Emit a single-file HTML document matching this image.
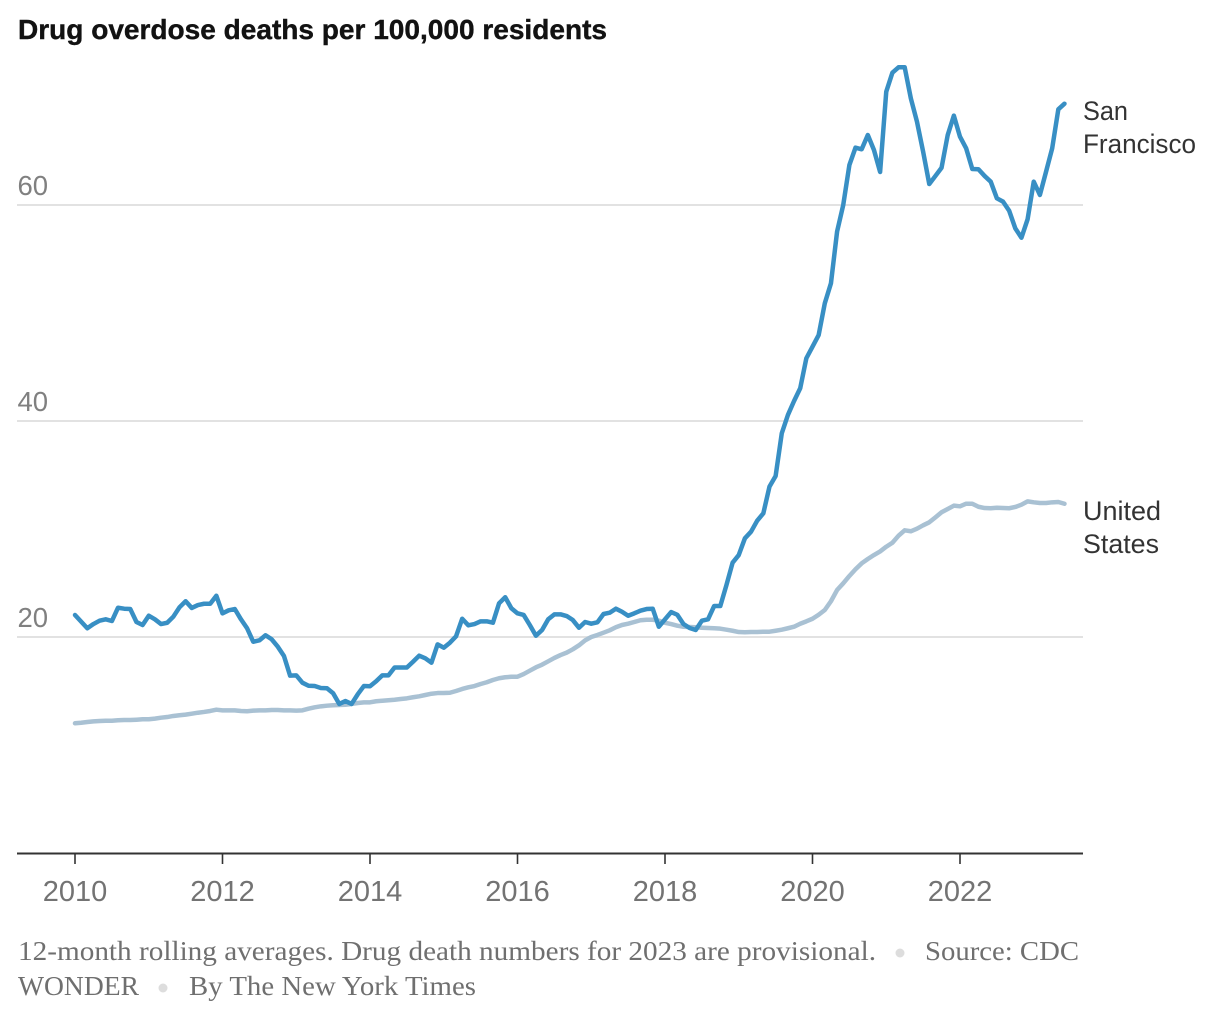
<!DOCTYPE html>
<html lang="en">
<head>
<meta charset="utf-8">
<title>Drug overdose deaths per 100,000 residents</title>
<style>
html,body{margin:0;padding:0;background:#fff;width:1228px;height:1010px;overflow:hidden}
svg{display:block}
text{font-family:"Liberation Sans",sans-serif}
.foot{font-family:"Liberation Serif",serif;font-size:27px;fill:#6f6f6f}
.lab{font-size:27px;fill:#333}
</style>
</head>
<body>
<svg id="chart" xmlns="http://www.w3.org/2000/svg" width="1228" height="1010" viewBox="0 0 1228 1010">
  <text x="18" y="39" font-size="28" font-weight="700" fill="#121212" stroke="#121212" stroke-width="0.4" textLength="589" lengthAdjust="spacingAndGlyphs">Drug overdose deaths per 100,000 residents</text>
  <g id="grid"></g>
  <g id="axis"></g>
  <g id="series"></g>
  <text class="lab" x="1083" y="120" textLength="45" lengthAdjust="spacingAndGlyphs">San</text>
  <text class="lab" x="1083" y="153" textLength="113" lengthAdjust="spacingAndGlyphs">Francisco</text>
  <text class="lab" x="1083" y="520" textLength="78" lengthAdjust="spacingAndGlyphs">United</text>
  <text class="lab" x="1083" y="553" textLength="76" lengthAdjust="spacingAndGlyphs">States</text>
  <text class="foot" x="18" y="960" textLength="858" lengthAdjust="spacingAndGlyphs">12-month rolling averages. Drug death numbers for 2023 are provisional.</text>
  <circle cx="900" cy="953" r="4.5" fill="#ddd"></circle>
  <text class="foot" x="925" y="960" textLength="154" lengthAdjust="spacingAndGlyphs">Source: CDC</text>
  <text class="foot" x="18" y="995" textLength="121" lengthAdjust="spacingAndGlyphs">WONDER</text>
  <circle cx="163" cy="988" r="4.5" fill="#ddd"></circle>
  <text class="foot" x="189" y="995" textLength="287" lengthAdjust="spacingAndGlyphs">By The New York Times</text>
</svg>
<script>
const startYear = 2010;
const xTickYears = [2010, 2012, 2014, 2016, 2018, 2020, 2022];
const yTickValues = [20, 40, 60];
const sanFrancisco = [
  22.04,21.42,20.81,21.2,21.51,21.64,21.48,22.71,22.62,22.59,21.39,21.11,
  21.97,21.64,21.2,21.32,21.88,22.75,23.31,22.69,22.96,23.08,23.08,23.82,
  22.19,22.47,22.59,21.64,20.81,19.56,19.69,20.16,19.79,19.1,18.24,16.42,
  16.45,15.77,15.49,15.46,15.28,15.25,14.79,13.8,14.07,13.8,14.69,15.46,
  15.44,15.9,16.45,16.45,17.18,17.18,17.18,17.71,18.27,18.03,17.62,19.32,
  19.01,19.47,20.06,21.69,21.08,21.2,21.45,21.45,21.32,23.12,23.68,22.66,
  22.19,22.04,21.11,20.12,20.65,21.64,22.1,22.1,21.94,21.57,20.86,21.39,
  21.23,21.36,22.13,22.25,22.62,22.34,21.97,22.19,22.44,22.59,22.62,20.95,
  21.64,22.31,22.06,21.2,20.83,20.65,21.51,21.64,22.87,22.87,24.81,26.88,
  27.59,29.14,29.75,30.77,31.45,33.92,34.91,38.86,40.56,41.85,43.03,45.81,
  46.88,47.96,50.9,52.75,57.53,60,63.7,65.31,65.16,66.48,65.09,63.06,
  70.49,72.25,72.75,72.75,69.88,67.71,64.94,61.94,62.69,63.45,66.48,68.27,
  66.32,65.25,63.33,63.31,62.69,62.16,60.62,60.31,59.47,57.84,56.97,58.68,
  62.16,60.93,63.08,65.25,68.86,69.38
];
const unitedStates = [
  12.01,12.06,12.13,12.19,12.22,12.25,12.25,12.29,12.31,12.31,12.34,12.38,
  12.38,12.44,12.53,12.59,12.69,12.75,12.81,12.9,12.99,13.06,13.15,13.27,
  13.21,13.21,13.21,13.15,13.12,13.18,13.21,13.21,13.24,13.24,13.21,13.21,
  13.18,13.21,13.36,13.49,13.58,13.64,13.68,13.7,13.73,13.8,13.89,13.95,
  13.95,14.05,14.1,14.14,14.19,14.26,14.32,14.42,14.51,14.63,14.75,14.81,
  14.81,14.84,15,15.19,15.34,15.46,15.65,15.81,16.02,16.18,16.27,16.32,
  16.32,16.57,16.88,17.19,17.44,17.75,18.06,18.33,18.55,18.86,19.23,19.69,
  20,20.19,20.4,20.62,20.9,21.11,21.23,21.39,21.55,21.6,21.6,21.51,
  21.32,21.2,21.05,20.95,20.93,20.9,20.86,20.83,20.81,20.77,20.68,20.58,
  20.46,20.44,20.46,20.46,20.49,20.49,20.58,20.68,20.81,20.95,21.23,21.45,
  21.69,22.06,22.5,23.31,24.35,24.97,25.65,26.27,26.82,27.22,27.59,27.92,
  28.36,28.73,29.38,29.88,29.79,30.03,30.34,30.62,31.08,31.55,31.85,32.16,
  32.1,32.34,32.34,32.06,31.94,31.92,31.97,31.94,31.92,32.04,32.25,32.56,
  32.47,32.41,32.41,32.47,32.5,32.34
];

const NS = 'http://www.w3.org/2000/svg';
const plot = { left: 17, right: 1083, zeroY: 853, x2010: 75, pxPerYear: 73.75, pxPerUnit: 10.8 };
function xScale(year) { return plot.x2010 + (year - 2010) * plot.pxPerYear; }
function yScale(value) { return plot.zeroY - value * plot.pxPerUnit; }
function mk(tag, parent) {
  const el = document.createElementNS(NS, tag);
  parent.appendChild(el);
  return el;
}
const grid = document.getElementById('grid');
const axis = document.getElementById('axis');
const series = document.getElementById('series');

yTickValues.forEach(function (v) {
  const line = mk('line', grid);
  
  
  line.setAttribute('x1', plot.left);
  line.setAttribute('x2', plot.right);
  line.setAttribute('y1', yScale(v));
  line.setAttribute('y2', yScale(v));
  line.setAttribute('stroke', '#e2e2e2');
  line.setAttribute('stroke-width', '2');
  const label = mk('text', grid);
  
  
  label.setAttribute('x', 17.5);
  label.setAttribute('y', yScale(v) - 10);
  label.setAttribute('font-size', '27.5');
  label.setAttribute('fill', '#808080');
  label.textContent = String(v);
});

const baseline = mk('line', axis);


baseline.setAttribute('x1', plot.left);
baseline.setAttribute('x2', plot.right);
baseline.setAttribute('y1', yScale(0) + 0.5);
baseline.setAttribute('y2', yScale(0) + 0.5);
baseline.setAttribute('stroke', '#333');
baseline.setAttribute('stroke-width', '2');

xTickYears.forEach(function (yr) {
  const tick = mk('line', axis);
  
  
  tick.setAttribute('x1', xScale(yr));
  tick.setAttribute('x2', xScale(yr));
  tick.setAttribute('y1', yScale(0));
  tick.setAttribute('y2', yScale(0) + 11);
  tick.setAttribute('stroke', '#333');
  tick.setAttribute('stroke-width', '1.6');
  const label = mk('text', axis);
  
  
  label.setAttribute('x', xScale(yr));
  label.setAttribute('y', 901);
  label.setAttribute('text-anchor', 'middle');
  label.setAttribute('font-size', '29');
  label.setAttribute('fill', '#737373');
  label.textContent = String(yr);
});

function linePath(values) {
  return values.map(function (v, i) {
    const t = startYear + i / 12;
    return (i ? 'L' : 'M') + xScale(t).toFixed(2) + ' ' + yScale(v).toFixed(2);
  }).join('');
}
const usLine = mk('path', series);


usLine.setAttribute('d', linePath(unitedStates));
usLine.setAttribute('fill', 'none');
usLine.setAttribute('stroke', '#a9c1d3');
usLine.setAttribute('stroke-width', '4.5');
usLine.setAttribute('stroke-linejoin', 'round');
usLine.setAttribute('stroke-linecap', 'round');

const sfLine = mk('path', series);


sfLine.setAttribute('d', linePath(sanFrancisco));
sfLine.setAttribute('fill', 'none');
sfLine.setAttribute('stroke', '#388fc4');
sfLine.setAttribute('stroke-width', '4.5');
sfLine.setAttribute('stroke-linejoin', 'round');
sfLine.setAttribute('stroke-linecap', 'round');
</script>
</body>
</html>
